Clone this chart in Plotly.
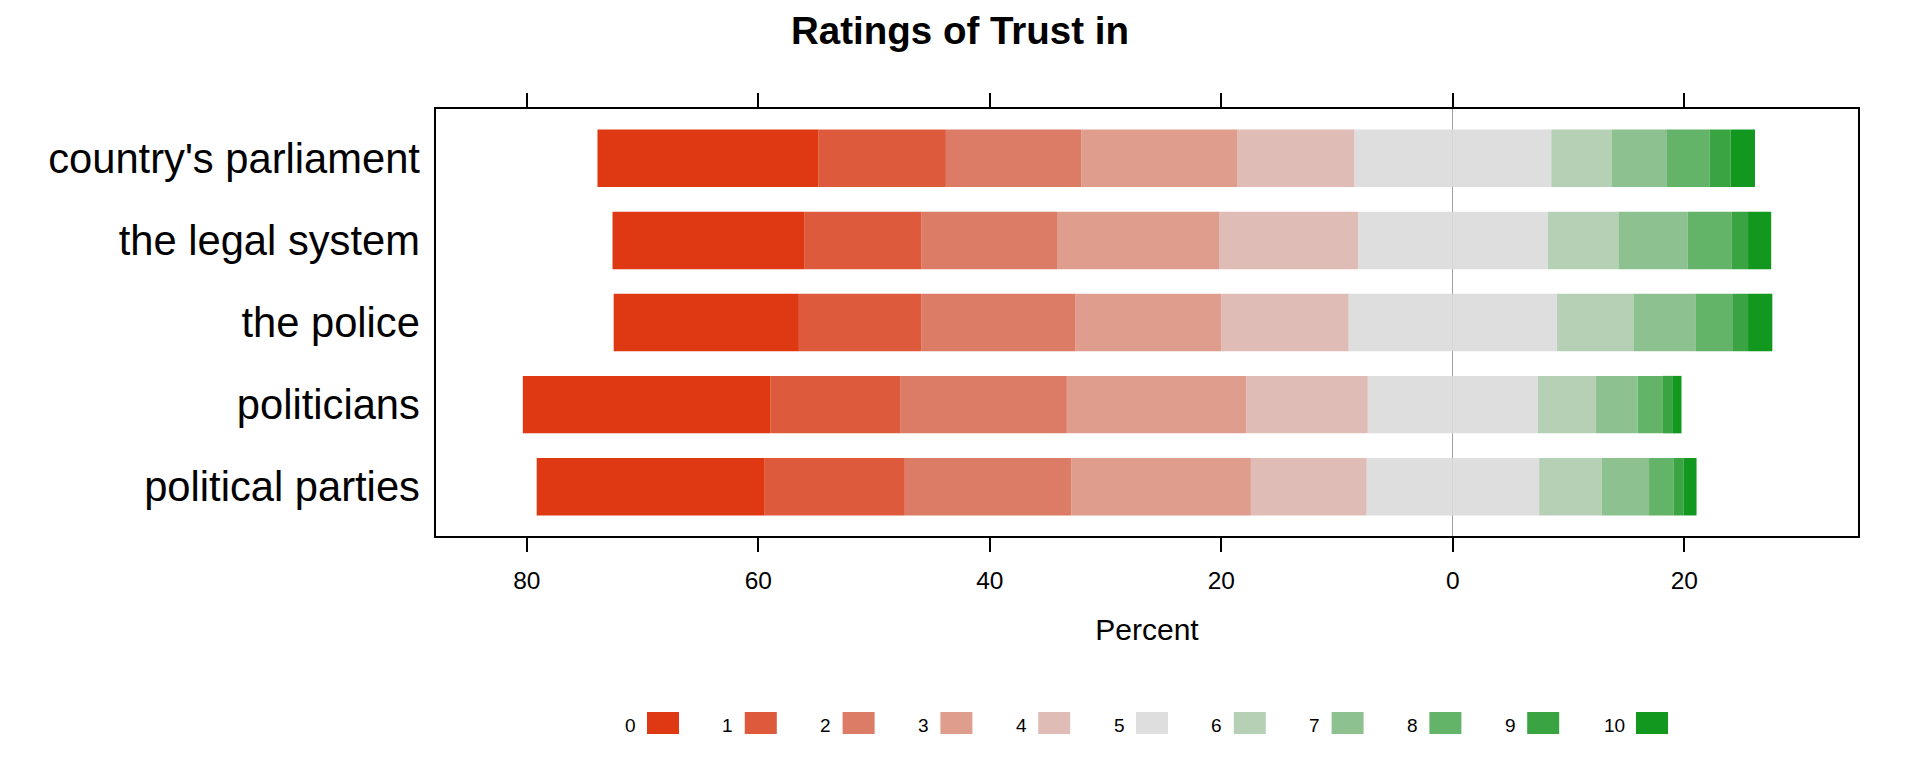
import plotly.graph_objects as go

# ---- data ----
items = ["country's parliament", "the legal system", "the police", "politicians", "political parties"]
levels = ["0", "1", "2", "3", "4", "5", "6", "7", "8", "9", "10"]

parliament = [19.1, 11.0, 11.7, 13.5, 10.1, 17.0, 5.2, 4.8, 3.7, 1.8, 2.1]
legal_system = [16.6, 10.1, 11.7, 14.0, 12.0, 16.4, 6.1, 6.0, 3.8, 1.4, 2.0]
police = [16.0, 10.6, 13.3, 12.6, 11.0, 18.0, 6.6, 5.4, 3.2, 1.3, 2.1]
politicians = [21.4, 11.2, 14.4, 15.5, 10.5, 14.7, 5.0, 3.6, 2.2, 0.8, 0.8]
political_parties = [19.7, 12.1, 14.4, 15.5, 10.0, 14.9, 5.4, 4.1, 2.1, 0.9, 1.1]

tick_vals = [-80, -60, -40, -20, 0, 20]
tick_text = ["80", "60", "40", "20", "0", "20"]

colors = ["#DF3913", "#DD5B3C", "#DC7B66", "#DF9D8E", "#DFBDB6", "#DEDEDE",
          "#B6D0B6", "#8EC190", "#63B469", "#3AA442", "#12981E"]

rows = [parliament, legal_system, police, politicians, political_parties]
FONT = "Liberation Sans, Arial, sans-serif"

OFF = 8  # page body margin
W, H = 1920 - OFF, 768 - OFF
ML, MT = 436 - OFF, 109 - OFF
PW, PH = 1422, 427
MR, MB = W - ML - PW, H - MT - PH

fig = go.Figure()
neutral = 5

# negative side: neutral half first, then 4..0
for k in [neutral, 4, 3, 2, 1, 0]:
    vals = [-(r[k] / 2 if k == neutral else r[k]) for r in rows]
    fig.add_trace(go.Bar(y=items, x=vals, orientation="h", marker=dict(color=colors[k], line=dict(width=0)),
                         name=levels[k], showlegend=False))
# positive side: neutral half first, then 6..10
for k in [neutral, 6, 7, 8, 9, 10]:
    vals = [(r[k] / 2 if k == neutral else r[k]) for r in rows]
    fig.add_trace(go.Bar(y=items, x=vals, orientation="h", marker=dict(color=colors[k], line=dict(width=0)),
                         name=levels[k], showlegend=False))

fig.update_layout(
    width=W, height=H,
    margin=dict(l=ML, r=MR, t=MT, b=MB, pad=0),
    paper_bgcolor="white", plot_bgcolor="white",
    barmode="relative", bargap=0.3,
    font=dict(family=FONT, color="black"),
    title=dict(text="Ratings of Trust in", x=(960 - OFF) / W, xref="container", xanchor="center",
               y=1 - (31 - OFF) / H, yref="container", yanchor="middle",
               font=dict(size=38.5, family=FONT, weight="bold", color="black")),
    xaxis=dict(range=[-87.85, 35.0], tickvals=tick_vals, ticktext=tick_text,
               ticks="outside", ticklen=14, tickwidth=1.5, tickcolor="black",
               showline=True, linecolor="black", linewidth=1.5, mirror="ticks",
               showgrid=False, zeroline=True, zerolinecolor="#A0A0A0", zerolinewidth=1.2,
               tickfont=dict(size=24.5, family=FONT), ticklabelstandoff=8,
               title=dict(text="Percent", font=dict(size=30, family=FONT), standoff=26)),
    yaxis=dict(categoryorder="array", categoryarray=items[::-1], range=[-0.6, 4.6],
               showline=True, linecolor="black", linewidth=1.5, mirror=True,
               ticks="", showgrid=False, zeroline=False,
               tickfont=dict(size=41.7, family=FONT), ticklabelstandoff=6),
)

# legend: label left of swatch, built from levels/colors
def px_x(px):
    return (px - OFF - ML) / PW

def px_y(py):
    return (MT + PH + OFF - py) / PH

x0 = 647.0
pitch = 97.8
charw = 11.0
sw_w, sw_top, sw_bot = 32.0, 712.0, 734.0
extra = 0.0
for i, lab in enumerate(levels):
    extra += charw * (len(lab) - 1)
    left = x0 + pitch * i + extra
    fig.add_shape(type="rect", xref="paper", yref="paper",
                  x0=px_x(left), x1=px_x(left + sw_w), y0=px_y(sw_bot), y1=px_y(sw_top),
                  fillcolor=colors[i], line=dict(width=0))
    fig.add_annotation(xref="paper", yref="paper", x=px_x(left - 9.5), y=px_y(725),
                       text=lab, showarrow=False, xanchor="right", yanchor="middle",
                       font=dict(size=19, family=FONT, color="black"))

fig.write_html("out.html")
